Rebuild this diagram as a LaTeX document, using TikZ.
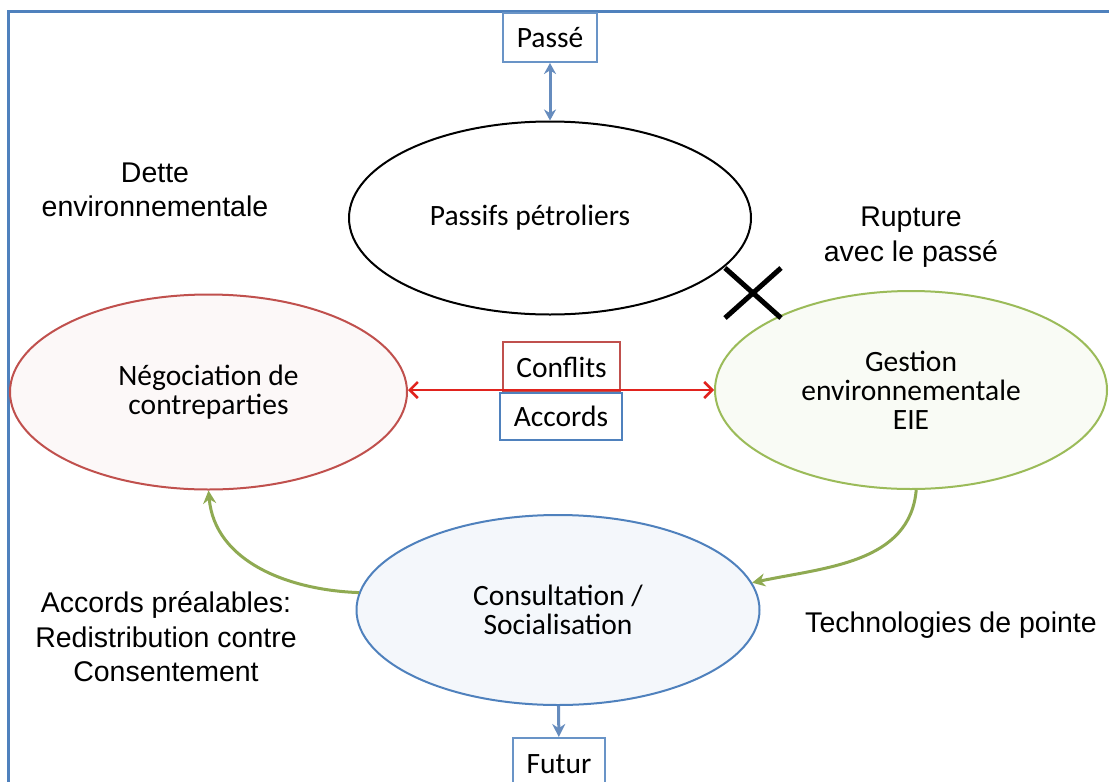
\documentclass[tikz,border=0pt]{standalone}
\usepackage{fontspec}
\setmainfont{Liberation Sans}
\newfontfamily\calfont{Carlito}
\usetikzlibrary{shapes.geometric,arrows.meta}
\definecolor{offblue}{RGB}{79,129,189}
\definecolor{offred}{RGB}{192,80,77}
\definecolor{offgreen}{RGB}{155,187,89}
\definecolor{arrowgreen}{RGB}{143,170,82}
\definecolor{arrowblue}{RGB}{102,140,190}
\definecolor{linkred}{RGB}{225,35,30}

\begin{document}
\begin{tikzpicture}[x=1pt, y=-1pt,
	bubble/.style={ellipse, draw, line width=2pt, align=center, inner sep=0pt, font=\calfont\fontsize{29.5}{29}\selectfont},
	tag/.style={draw, line width=2pt, fill=white, inner sep=0pt, font=\calfont\fontsize{29.5}{29}\selectfont},
	remark/.style={align=center, inner sep=0pt, font=\fontsize{28.5}{34.5}\selectfont},
	flow/.style={line width=3pt, -{Stealth[length=13pt,width=13pt]}}]
	\useasboundingbox (0,0) rectangle (1109,782);
	\clip (0,0) rectangle (1109,782);
	\fill[white] (0,0) rectangle (1109,782);
	\draw[offblue, line width=3pt] (8,11) rectangle (1130,800);
	\node[tag, draw=offblue!85, minimum width=94pt, minimum height=49pt](P) at (550,37.5){Passé};
	\node[bubble, draw=black, minimum width=402pt, minimum height=193pt, label={[font=\calfont\fontsize{29.5}{29}\selectfont, xshift=-20pt]center:Passifs pétroliers}](PP) at (550,218){};
	\node[bubble, draw=offred, fill=offred!4, minimum width=397pt, minimum height=195pt](N) at (208.5,392){Négociation de\\contreparties};
	\node[bubble, draw=offgreen, fill=offgreen!6, minimum width=392pt, minimum height=198pt](G) at (911,390){Gestion\\environnementale\\EIE};
	\node[bubble, draw=offblue, fill=offblue!6, minimum width=403pt, minimum height=190pt](C) at (558,610){Consultation /\\Socialisation};
	\node[tag, draw=offred, minimum width=117pt, minimum height=50pt](CF) at (561.5,367){Conflits};
	\node[tag, draw=offblue, minimum width=122pt, minimum height=47pt](AC) at (561,416.5){Accords};
	\node[tag, draw=offblue!85, minimum width=92pt, minimum height=52pt](F) at (559,764){Futur};
	\node[remark](D) at (155,190){Dette\\environnementale};
	\node[remark](R) at (911,237){Rupture\\avec le passé};
	\node[remark](AP) at (166,637){Accords préalables:\\Redistribution contre\\Consentement};
	\node[remark, anchor=base](T) at (951,632){Technologies de pointe};
	\draw[line width=5pt] (725,268) -- (781,318) (781,268) -- (725,318);
	\draw[arrowblue, line width=3pt, {Stealth[length=11pt,width=12pt]}-{Stealth[length=11pt,width=12pt]}] (P) -- (PP);
	\draw[linkred, line width=2.5pt, {Straight Barb[length=8pt,width=16pt]}-{Straight Barb[length=8pt,width=16pt]}] (N.east |- G.west) -- (G.west);
	\draw[flow, arrowgreen] (C.175) to[out=178, in=-85] (N.south);
	\draw[flow, arrowgreen] (G.-87) to[out=-95, in=12] (C.8);
	\draw[flow, arrowblue] (C) -- (F);
\end{tikzpicture}
\end{document}
